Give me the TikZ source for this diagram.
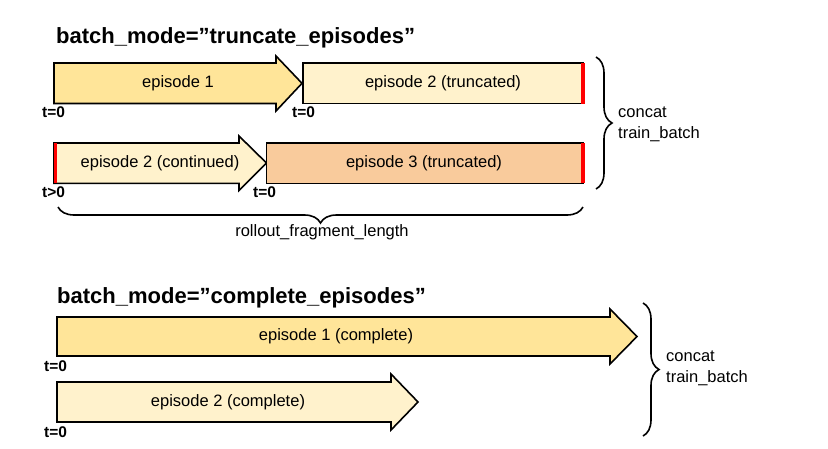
\documentclass[tikz,border=0pt]{standalone}
\usepackage{fontspec}
\setmainfont{Liberation Sans}
\usetikzlibrary{decorations.pathreplacing}
\definecolor{epA}{HTML}{FFE599}
\definecolor{epB}{HTML}{FFF2CC}
\definecolor{epC}{HTML}{F9CB9C}
\definecolor{trunc}{HTML}{FF0000}
\tikzset{
  epshape/.style={draw=black, line width=1.6pt, line join=miter},
  eplabel/.style={inner sep=0pt, font=\fontsize{16.5}{19}\selectfont},
  tlabel/.style={inner sep=0pt, anchor=base west, font=\bfseries\fontsize{15.5}{18}\selectfont},
  title/.style={inner sep=0pt, anchor=base west, font=\bfseries\fontsize{22}{26}\selectfont},
  sidelabel/.style={inner sep=0pt, anchor=west, align=left, font=\fontsize{16.5}{21}\selectfont},
  cutmark/.style={draw=trunc, line width=3.5pt},
  bracebar/.style={draw=black, line width=1.6pt, decorate, decoration={brace, amplitude=16pt}}
}
\begin{document}
\begin{tikzpicture}[x=1pt,y=-1pt]
\useasboundingbox (0,0) rectangle (828,448);
\fill[white] (0,0) rectangle (828,448);

% ---------- truncate_episodes ----------
\node[title] (t1) at (56,43) {batch\_mode=”truncate\_episodes”};

\draw[epshape, fill=epA] (54,63) -- (276,63) -- (276,56) -- (302,83.3) -- (276,111) -- (276,103.5) -- (54,103.5) -- cycle;
\node[eplabel] (e1) at (178,83) {episode 1};

\draw[epshape, fill=epB] (303,63) rectangle (583,103.5);
\node[eplabel] (e2t) at (443,83) {episode 2 (truncated)};
\draw[cutmark] (583,63) -- (583,103.5);

\draw[epshape, fill=epB] (54,143) -- (239,143) -- (239,136) -- (266.5,163) -- (239,190.5) -- (239,183.3) -- (54,183.3) -- cycle;
\node[eplabel] (e2c) at (160,163) {episode 2 (continued)};
\draw[cutmark] (55.5,143) -- (55.5,183.3);

\draw[epshape, fill=epC] (266.5,143) rectangle (583,183.3);
\node[eplabel] (e3t) at (424,163) {episode 3 (truncated)};
\draw[cutmark] (583,143) -- (583,183.3);

\node[tlabel] (ta) at (42,117) {t=0};
\node[tlabel] (tb) at (292,117) {t=0};
\node[tlabel] (tc) at (42,197) {t>0};
\node[tlabel] (td) at (253,197) {t=0};

\draw[bracebar] (596,57) -- (596,189);
\node[sidelabel] (c1) at (618,124) {concat\\train\_batch};

\draw[bracebar] (583,207) -- (58,207);
\node[inner sep=0pt, anchor=base, font=\fontsize{16.5}{19}\selectfont] (rfl) at (322,236) {rollout\_fragment\_length};

% ---------- complete_episodes ----------
\node[title] (t2) at (57,303) {batch\_mode=”complete\_episodes”};

\draw[epshape, fill=epA] (57,317) -- (610,317) -- (610,309) -- (637,336.5) -- (610,364) -- (610,356) -- (57,356) -- cycle;
\node[eplabel] (f1) at (336,336.5) {episode 1 (complete)};

\draw[epshape, fill=epB] (57,382) -- (391,382) -- (391,374) -- (418,402) -- (391,430) -- (391,422) -- (57,422) -- cycle;
\node[eplabel] (f2) at (228,402) {episode 2 (complete)};

\node[tlabel] (te) at (44,371) {t=0};
\node[tlabel] (tf) at (44,437) {t=0};

\draw[bracebar] (643,303) -- (643,436);
\node[sidelabel] (c2) at (666,368) {concat\\train\_batch};
\end{tikzpicture}
\end{document}
